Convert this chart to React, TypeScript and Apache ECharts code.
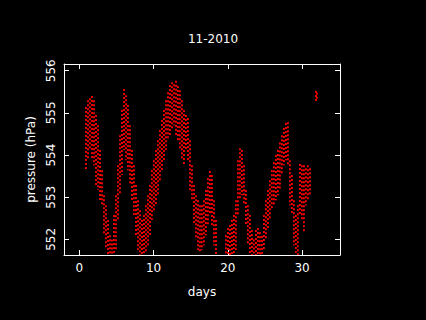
import React, { useEffect, useRef } from "react";
import * as echarts from "echarts";

const titleText = "11-2010";
const xTicks = [0, 10, 20, 30];
const yTicks = [552, 553, 554, 555, 556];

// time (days) of each sampled column of the record
const days = [
  0.9, 1.17, 1.44, 1.71, 1.98, 2.25, 2.52, 2.79, 3.06, 3.32, 3.59, 3.86, 4.13, 4.4, 4.67, 4.94,
  5.21, 5.48, 5.75, 6.02, 6.29, 6.55, 6.82, 7.09, 7.36, 7.63, 7.9, 8.17, 8.44, 8.71, 8.98, 9.25,
  9.52, 9.78, 10.05, 10.32, 10.59, 10.86, 11.13, 11.4, 11.67, 11.94, 12.21, 12.48, 12.75, 13.02,
  13.28, 13.55, 13.82, 14.09, 14.36, 14.63, 14.9, 15.17, 15.44, 15.71, 15.98, 16.25, 16.51, 16.78,
  17.05, 17.32, 17.59, 17.86, 18.13, 18.4, 19.74, 20.01, 20.28, 20.55, 20.82, 21.09, 21.36, 21.63,
  21.9, 22.17, 22.43, 22.7, 22.97, 23.24, 23.51, 23.78, 24.05, 24.32, 24.59, 24.86, 25.13, 25.4,
  25.66, 25.93, 26.2, 26.47, 26.74, 27.01, 27.28, 27.55, 27.82, 28.09, 28.36, 28.62, 28.89, 29.16,
  29.43, 29.7, 29.97, 30.24, 30.51, 30.78, 31.05, 31.86, 31.99,
];

// highest pressure reading in each column (hPa)
const pressureHigh = [
  555.14, 555.3, 555.35, 555.4, 555.3, 554.95, 554.71, 554.12, 553.64, 553.05, 552.81, 552.46,
  552.1, 552.0, 552.58, 553.05, 553.76, 554.47, 555.07, 555.57, 555.42, 555.19, 554.71, 554.12,
  553.76, 553.29, 552.93, 552.69, 552.46, 552.58, 552.81, 553.05, 553.29, 553.64, 553.88, 554.12,
  554.35, 554.59, 554.83, 555.07, 555.3, 555.49, 555.66, 555.73, 555.68, 555.76, 555.64, 555.54,
  555.3, 555.07, 554.95, 554.88, 554.35, 553.76, 553.29, 553.05, 552.93, 552.81, 552.81, 552.93,
  553.17, 553.45, 553.62, 553.53, 552.93, 552.46, 552.1, 552.27, 552.34, 552.46, 552.58, 552.93,
  553.88, 554.16, 554.12, 553.76, 553.17, 552.81, 552.58, 552.22, 552.0, 552.22, 552.27, 552.17,
  552.08, 552.58, 552.93, 553.17, 553.4, 553.64, 553.83, 554.0, 554.12, 554.3, 554.47, 554.64,
  554.76, 554.78, 553.88, 553.53, 552.93, 552.58, 552.81, 553.79, 553.76, 553.76, 553.69, 553.76,
  553.69, 555.52, 555.48,
];

// lowest pressure reading in each column (hPa)
const pressureLow = [
  553.62, 553.88, 554.12, 553.88, 553.76, 553.29, 553.17, 552.93, 552.81, 552.1, 551.79, 551.6,
  551.5, 551.5, 551.5, 551.75, 552.46, 553.05, 553.53, 554.12, 553.88, 553.64, 553.29, 552.93,
  552.58, 552.1, 551.75, 551.5, 551.5, 551.5, 551.7, 551.86, 552.1, 552.46, 552.69, 552.81,
  553.05, 553.4, 553.64, 553.88, 554.12, 554.35, 554.47, 554.59, 554.71, 554.47, 554.35, 554.12,
  553.88, 553.76, 554.12, 553.88, 553.17, 552.93, 552.34, 552.0, 551.75, 551.7, 551.75, 551.86,
  552.1, 552.34, 552.58, 552.34, 551.86, 551.5, 551.5, 551.5, 551.5, 551.5, 551.5, 551.75,
  552.58, 552.93, 553.05, 552.81, 552.34, 551.86, 551.5, 551.5, 551.5, 551.5, 551.5, 551.5,
  551.5, 551.75, 552.0, 552.22, 552.46, 552.69, 552.81, 552.93, 553.05, 553.17, 553.53, 553.76,
  553.88, 553.76, 552.81, 552.58, 551.86, 551.5, 551.5, 552.58, 552.46, 552.17, 552.81, 552.93,
  553.05, 555.28, 555.3,
];

const X_MIN = -2.06;
const X_MAX = 35.1;
const Y_MIN = 551.63;
const Y_MAX = 556.16;

export default function App() {
  const ref = useRef<HTMLDivElement>(null);

  useEffect(() => {
    document.body.style.margin = "0";
    document.body.style.background = "#000";
    if (!ref.current) return;
    const chart = echarts.init(ref.current, null, { renderer: "svg" });
    const font = "DejaVu Sans";
    const data = days.map((d, i) => [d, pressureHigh[i], pressureLow[i]]);
    const axisLine = { show: true, onZero: false, lineStyle: { color: "#fff", width: 1 } };
    const tickStyle = { color: "#fff", width: 1 };

    chart.setOption({
      animation: false,
      backgroundColor: "#000",
      title: {
        text: titleText,
        left: "center",
        top: 28,
        textStyle: { color: "#fff", fontSize: 12, fontWeight: "normal", fontFamily: font },
      },
      grid: { left: 64, right: 86, top: 64, bottom: 65, containLabel: false },
      xAxis: [
        {
          type: "value",
          min: X_MIN,
          max: X_MAX,
          name: "days",
          nameLocation: "middle",
          nameGap: 31,
          nameTextStyle: { color: "#fff", fontSize: 12, fontFamily: font },
          axisLine,
          axisTick: { show: true, inside: true, length: 5, lineStyle: tickStyle, customValues: xTicks },
          axisLabel: { color: "#fff", fontSize: 12, fontFamily: font, margin: 7, customValues: xTicks },
          splitLine: { show: false },
        },
        {
          type: "value",
          position: "top",
          min: X_MIN,
          max: X_MAX,
          axisLine,
          axisTick: { show: true, inside: true, length: 5, lineStyle: tickStyle, customValues: xTicks },
          axisLabel: { show: false },
          splitLine: { show: false },
        },
      ],
      yAxis: [
        {
          type: "value",
          min: Y_MIN,
          max: Y_MAX,
          name: "pressure (hPa)",
          nameLocation: "middle",
          nameGap: 22,
          nameTextStyle: { color: "#fff", fontSize: 12, fontFamily: font },
          axisLine,
          axisTick: { show: true, inside: true, length: 5, lineStyle: tickStyle, customValues: yTicks },
          axisLabel: { color: "#fff", fontSize: 12, fontFamily: font, margin: 7, rotate: 90, customValues: yTicks },
          splitLine: { show: false },
        },
        {
          type: "value",
          position: "right",
          min: Y_MIN,
          max: Y_MAX,
          axisLine,
          axisTick: { show: true, inside: true, length: 5, lineStyle: tickStyle, customValues: yTicks },
          axisLabel: { show: false },
          splitLine: { show: false },
        },
      ],
      series: [
        {
          type: "custom",
          clip: true,
          xAxisIndex: 0,
          yAxisIndex: 0,
          data,
          renderItem: (params: any, api: any) => {
            const x = api.value(0);
            const p1 = api.coord([x, api.value(1)]);
            const p2 = api.coord([x, api.value(2)]);
            return {
              type: "line",
              shape: { x1: p1[0], y1: p1[1], x2: p2[0], y2: p2[1] },
              style: { stroke: "#ff0000", lineWidth: 1.8, lineDash: [2, 2] },
            };
          },
        },
      ],
    });
    return () => chart.dispose();
  }, []);

  return <div ref={ref} style={{ width: 426, height: 320, background: "#000" }} />;
}
